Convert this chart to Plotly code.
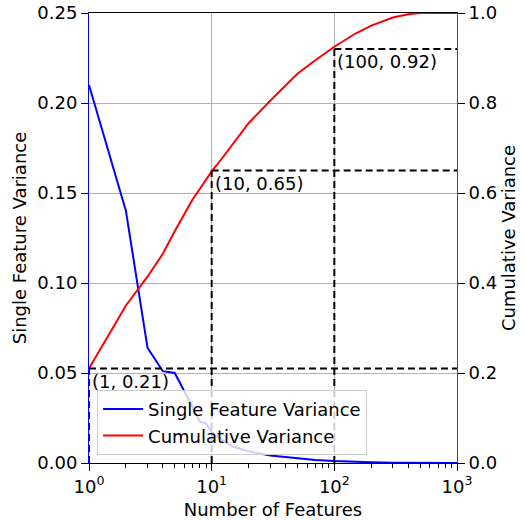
import numpy as np
import plotly.graph_objects as go

# Number of features (log-spaced sample points)
n_features = [1, 2, 3, 4, 5, 6, 7, 8, 9, 10, 12, 15, 20, 30, 50, 70, 100,
              150, 200, 300, 400, 500, 700, 1000]

# Variance explained by each single feature
single_variance = [0.21, 0.14, 0.064, 0.051, 0.050, 0.040, 0.031, 0.023, 0.022,
                   0.017, 0.013, 0.009, 0.0065, 0.0042, 0.0025, 0.0017, 0.0011,
                   0.0006, 0.0004, 0.0002, 0.00015, 0.0001, 0.00005, 0.0]

# Cumulative variance explained
cumulative_variance = [0.21, 0.35, 0.414, 0.465, 0.515, 0.555, 0.586, 0.609, 0.631,
                       0.648, 0.675, 0.71, 0.755, 0.805, 0.865, 0.895, 0.925,
                       0.955, 0.972, 0.99, 0.997, 1.0, 1.0, 1.0]

# Reference points marked with dashed guides
mark_x = [1, 10, 100]
mark_y = [0.21, 0.65, 0.92]
mark_labels = ["(1, 0.21)", "(10, 0.65)", "(100, 0.92)"]

X_MAX = 1000
FONT = "DejaVu Sans"
FS = 18

fig = go.Figure()

fig.add_trace(go.Scatter(
    x=n_features, y=single_variance, mode="lines",
    line=dict(color="blue", width=2),
    name="Single Feature Variance", yaxis="y",
))

fig.add_trace(go.Scatter(
    x=n_features, y=cumulative_variance, mode="lines",
    line=dict(color="red", width=2),
    name="Cumulative Variance", yaxis="y2",
))

# Dashed guides: vertical drop to zero, horizontal run to the right edge
gx, gy = [], []
for mx, my in zip(mark_x, mark_y):
    gx += [mx, mx, None, mx, X_MAX, None]
    gy += [0, my, None, my, my, None]
fig.add_trace(go.Scatter(
    x=gx, y=gy, mode="lines", yaxis="y2", showlegend=False,
    line=dict(color="black", width=2, dash="7px,4px"),
    hoverinfo="skip",
))

for mx, my, txt in zip(mark_x, mark_y, mark_labels):
    fig.add_annotation(
        x=np.log10(mx), y=my, xref="x", yref="y2", text=txt,
        showarrow=False, xanchor="left", yanchor="top",
        xshift=1, yshift=0,
        font=dict(family=FONT, size=FS, color="black"),
    )

minor_vals = [k * 10 ** d for d in range(0, 3) for k in range(2, 10)]

fig.update_layout(
    width=525, height=520,
    margin=dict(l=89, r=68, t=13, b=57, autoexpand=False),
    paper_bgcolor="white", plot_bgcolor="white",
    font=dict(family=FONT, size=FS, color="black"),
    xaxis=dict(
        type="log", range=[0, 3], automargin=False,
        tickvals=[1, 10, 100, 1000],
        ticktext=["10<sup>0</sup>", "10<sup>1</sup>", "10<sup>2</sup>", "10<sup>3</sup>"],
        ticks="outside", ticklen=7, tickwidth=1, tickcolor="black",
        showline=True, linecolor="black", linewidth=1, mirror=True,
        showgrid=True, gridcolor="#b0b0b0", gridwidth=1,
        zeroline=False,
        minor=dict(tickvals=minor_vals, ticks="outside", ticklen=4,
                   tickcolor="black", showgrid=False),
        title=dict(text="Number of Features", font=dict(size=FS), standoff=7),
        tickfont=dict(size=FS),
    ),
    yaxis=dict(
        range=[0, 0.25], dtick=0.05, tickformat=".2f", automargin=False,
        ticks="outside", ticklen=7, tickcolor="black",
        showline=True, linecolor="blue", linewidth=1,
        showgrid=True, gridcolor="#b0b0b0", gridwidth=1,
        zeroline=False,
        title=dict(text="Single Feature Variance", font=dict(size=FS), standoff=6),
        tickfont=dict(size=FS),
    ),
    yaxis2=dict(
        range=[0, 1], dtick=0.2, tickformat=".1f", automargin=False,
        overlaying="y", side="right",
        ticks="outside", ticklen=7, tickcolor="black",
        showline=True, linecolor="red", linewidth=1,
        showgrid=False, zeroline=False,
        title=dict(text="Cumulative Variance", font=dict(size=FS), standoff=6),
        tickfont=dict(size=FS),
    ),
    legend=dict(
        x=0.022, y=0.018, xanchor="left", yanchor="bottom",
        bgcolor="rgba(255,255,255,0.8)", bordercolor="#cccccc", borderwidth=1,
        font=dict(size=FS), itemwidth=40,
    ),
    showlegend=True,
)

fig.write_html("out.html")
